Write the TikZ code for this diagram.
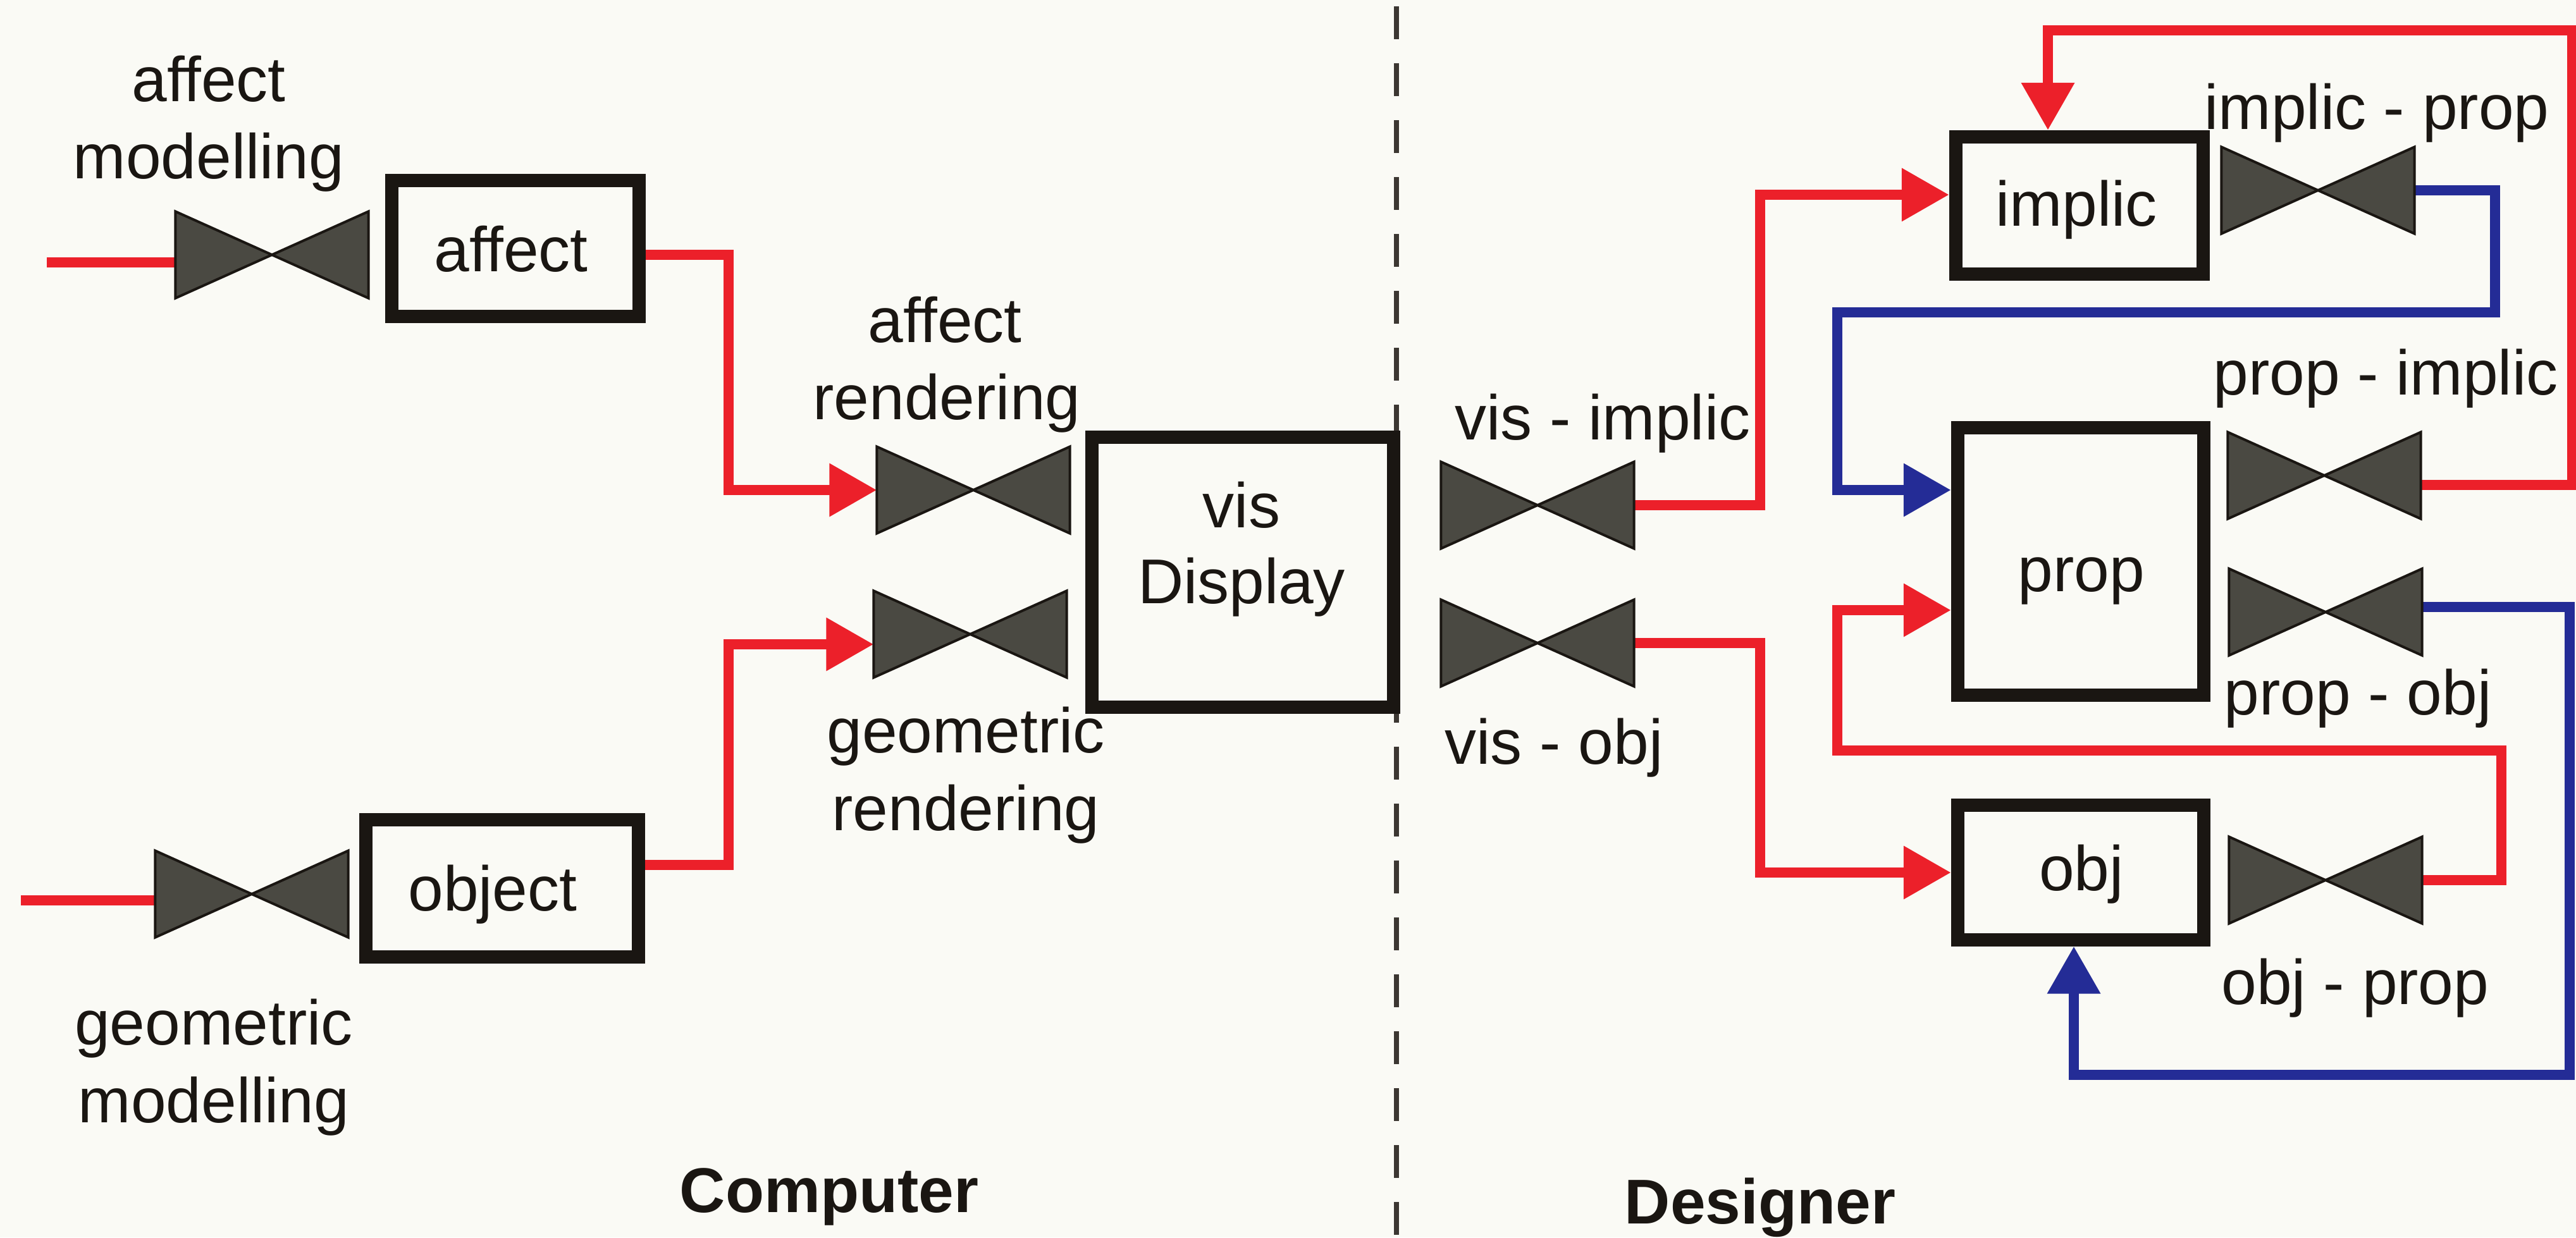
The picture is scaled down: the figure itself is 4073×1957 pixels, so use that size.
\documentclass[tikz,border=0pt]{standalone}
\usepackage{fontspec}
\setmainfont{Liberation Sans}
\usetikzlibrary{arrows.meta,calc}

\definecolor{paper}{RGB}{250,250,245}
\definecolor{flowred}{RGB}{236,32,42}
\definecolor{flowblue}{RGB}{36,44,150}
\definecolor{valvegray}{RGB}{74,73,66}
\definecolor{ink}{RGB}{26,22,18}
\definecolor{divgray}{RGB}{60,55,50}

\begin{document}
\begin{tikzpicture}[x=0.01cm,y=-0.01cm,
  every node/.style={inner sep=0pt,outer sep=0pt},
  lbl/.style={font=\fontsize{28.45}{35}\selectfont,text=ink,anchor=base},
  head/.style={font=\fontsize{28.45}{35}\selectfont\bfseries,text=ink,anchor=base},
  box/.style={draw=ink,line width=0.21cm,outer sep=0.105cm},
  valve/.style={minimum width=3.05cm,minimum height=1.37cm},
  bowtie/.style={fill=valvegray,draw=ink,line width=0.04cm,line join=miter},
  redline/.style={draw=flowred,line width=0.165cm,line join=miter},
  redflow/.style={redline,-{Triangle[length=7.5mm,width=8mm]}},
  blueflow/.style={draw=flowblue,line width=0.165cm,line join=miter,-{Triangle[length=7.5mm,width=8mm]}},
  divider/.style={draw=divgray,line width=0.08cm,dash pattern=on 0.52cm off 0.38cm}
]
\useasboundingbox (0,0) rectangle (4073,1957);
\fill[paper] (0,0) rectangle (4073,1957);

% Computer / Designer divider
\coordinate (divTop) at (2208,10);
\coordinate (divBot) at (2208,1957);
\draw[divider] (divTop) -- (divBot);

% process boxes
\node[box,minimum width=3.90cm,minimum height=2.15cm] (affect)  at (815,393)  {};
\node[box,minimum width=4.31cm,minimum height=2.17cm] (object)  at (794,1405) {};
\node[box,minimum width=4.77cm,minimum height=4.27cm] (display) at (1965,905) {};
\node[box,minimum width=3.91cm,minimum height=2.17cm] (implic)  at (3288,325) {};
\node[box,minimum width=3.89cm,minimum height=4.22cm] (prop)    at (3290,888) {};
\node[box,minimum width=3.89cm,minimum height=2.12cm] (obj)     at (3290,1380) {};

% box captions
\node[lbl] (affectTxt) at (808,429)   {affect};
\node[lbl] (objectTxt) at (779,1440)  {object};
\node[lbl] (dispTxtA)  at (1963,834)  {vis};
\node[lbl] (dispTxtB)  at (1963,954)  {Display};
\node[lbl] (implicTxt) at (3283,357)  {implic};
\node[lbl] (propTxt)   at (3291,935)  {prop};
\node[lbl] (objTxt)    at (3291,1408) {obj};

% valves
\node[valve] (vAM) at (430,403)   {};
\node[valve] (vGM) at (398,1414)  {};
\node[valve] (vAR) at (1539,775)  {};
\node[valve] (vGR) at (1534,1003) {};
\node[valve] (vVI) at (2431,799)  {};
\node[valve] (vVO) at (2431,1017) {};
\node[valve] (vIP) at (3665,301)  {};
\node[valve] (vPI) at (3675,752)  {};
\node[valve] (vPO) at (3677,968)  {};
\node[valve] (vOP) at (3677,1392) {};

% valve captions
\node[lbl] (amA) at (330,160)  {affect};
\node[lbl] (amB) at (330,282)  {modelling};
\node[lbl] (arA) at (1494,541) {affect};
\node[lbl] (arB) at (1497,663) {rendering};
\node[lbl] (grA) at (1527,1190) {geometric};
\node[lbl] (grB) at (1527,1313) {rendering};
\node[lbl] (gmA) at (338,1652) {geometric};
\node[lbl] (gmB) at (338,1775) {modelling};
\node[lbl] (viLbl) at (2534,695)  {vis - implic};
\node[lbl] (voLbl) at (2457,1208) {vis - obj};
\node[lbl] (ipLbl) at (3758,204)  {implic - prop};
\node[lbl] (piLbl) at (3772,624)  {prop - implic};
\node[lbl] (poLbl) at (3728,1130) {prop - obj};
\node[lbl] (opLbl) at (3724,1588) {obj - prop};

% side headings
\node[head] (computer) at (1311,1917) {Computer};
\node[head] (designer) at (2783,1935) {Designer};

% routing columns and rows
\coordinate (colA) at (1152,0);
\coordinate (colB) at (2783,0);
\coordinate (colC) at (3945,0);
\coordinate (colD) at (2905,0);
\coordinate (colE) at (4067,0);
\coordinate (colF) at (4063,0);
\coordinate (colG) at (3955,0);
\coordinate (rowTop) at (0,48);
\coordinate (rowMid) at (0,494);
\coordinate (rowLow) at (0,1187);
\coordinate (rowBot) at (0,1700);

% connector ends
\coordinate (inAM) at (74,415);
\coordinate (inGM) at (33,1424);
\coordinate (affOut) at ($(affect.east)+(0,10)$);
\coordinate (objOut) at ($(object.east)+(0,-37)$);
\coordinate (grIn)   at ($(vGR.west)+(0,16)$);
\coordinate (imWest) at ($(implic.west)+(0,-17)$);
\coordinate (imTop)  at ($(implic.north)+(-50,0)$);
\coordinate (prUp)   at ($(prop.west)+(0,-113)$);
\coordinate (prLow)  at ($(prop.west)+(0,77)$);
\coordinate (obBot)  at ($(obj.south)+(-11,0)$);
\coordinate (piOut)  at ($(vPI.east)+(0,15)$);
\coordinate (poOut)  at ($(vPO.east)+(0,-8)$);

% computer side
\draw[redline] (inAM) -- (inAM -| vAM.west);
\draw[redline] (inGM) -- (inGM -| vGM.west);
\draw[redflow] (affOut) -- (affOut -| colA) |- (vAR.west);
\draw[redflow] (objOut) -- (objOut -| colA) |- (grIn);

% designer side
\draw[redflow] (vVI.east) -- (vVI.east -| colB) |- (imWest);
\draw[redflow] (vVO.east) -- (vVO.east -| colB) |- (obj.west);
\draw[blueflow] (vIP.east) -- (vIP.east -| colC) -- (colC |- rowMid) -- (colD |- rowMid) |- (prUp);
\draw[redflow] (piOut) -- (piOut -| colE) -- (colE |- rowTop) -- (imTop |- rowTop) -- (imTop);
\draw[blueflow] (poOut) -- (poOut -| colF) -- (colF |- rowBot) -- (obBot |- rowBot) -- (obBot);
\draw[redflow] (vOP.east) -- (vOP.east -| colG) -- (colG |- rowLow) -- (colD |- rowLow) |- (prLow);

% bow-tie valve symbols
\foreach \v in {vAM,vGM,vAR,vGR,vVI,vVO,vIP,vPI,vPO,vOP}{
  \draw[bowtie] (\v.north west) -- (\v.south west) -- (\v.center) -- cycle;
  \draw[bowtie] (\v.north east) -- (\v.south east) -- (\v.center) -- cycle;
}
\end{tikzpicture}
\end{document}
